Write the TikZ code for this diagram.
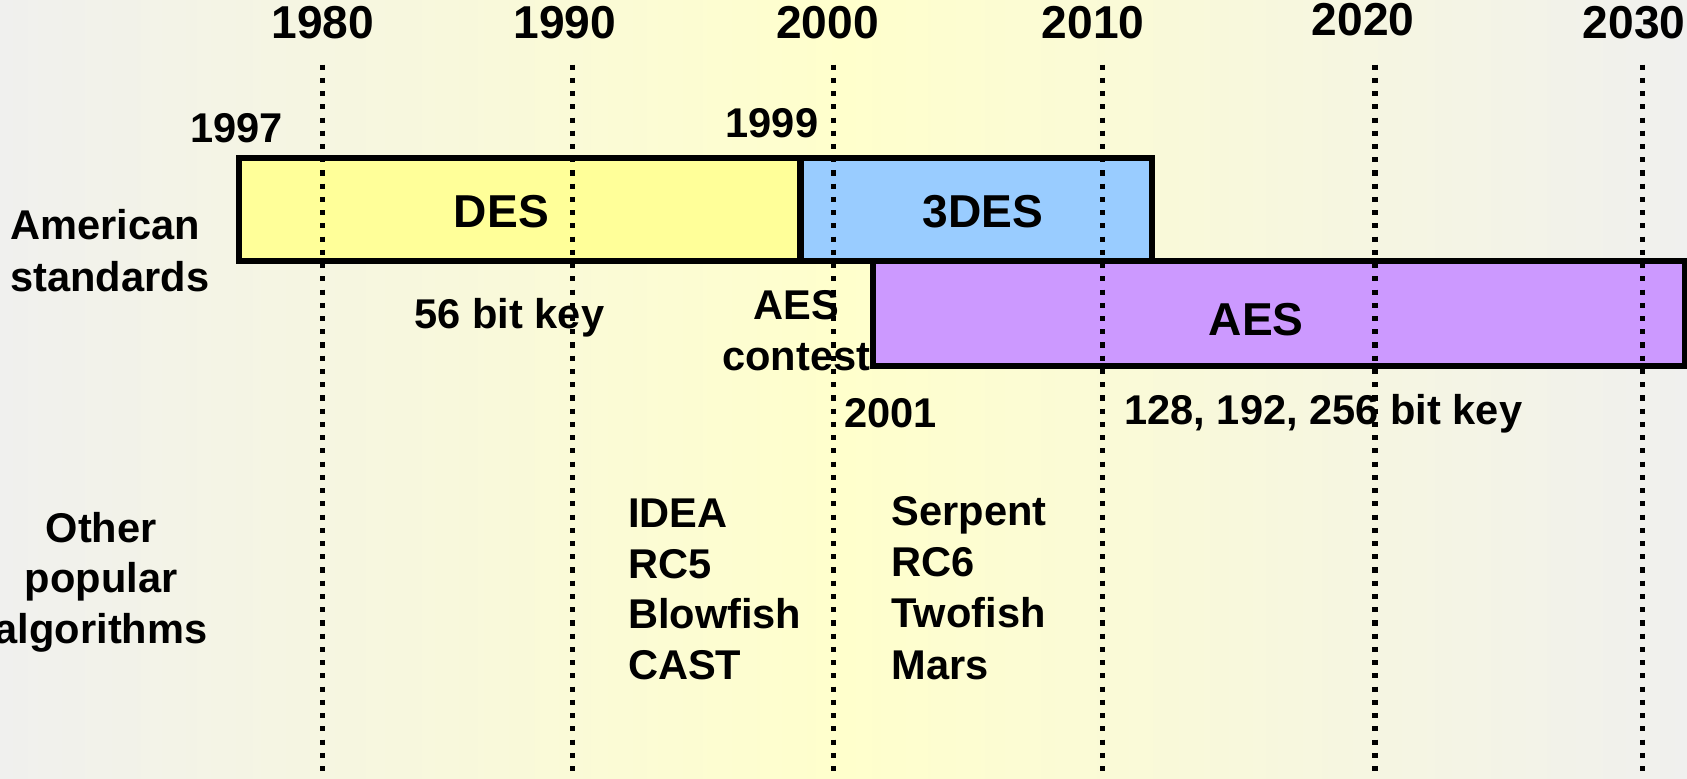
\documentclass[tikz,border=0pt]{standalone}
\usepackage{fontspec}
\setmainfont{Liberation Sans}
\definecolor{slidegray}{HTML}{F0F0EE}
\definecolor{slidecream}{HTML}{FFFFCC}
\definecolor{desfill}{HTML}{FFFF99}
\definecolor{tdesfill}{HTML}{99CCFF}
\definecolor{aesfill}{HTML}{CC99FF}
\newcommand{\yearline}[1]{\draw[dateline] (#1,-0.60) -- (#1,-7.24)}
\newcommand{\period}[5]{\draw[era,fill=#5] (#1,#2) rectangle (#3,#4)}
\tikzset{
  dateline/.style={line width=1.35pt, dash pattern=on 1.35pt off 2.15pt},
  era/.style={draw=black, line width=1.6pt},
  bigtext/.style={font=\fontsize{12.2}{14.6}\selectfont\bfseries, inner sep=0pt, anchor=base},
  note/.style={font=\fontsize{11}{13.4}\selectfont\bfseries, inner sep=0pt, anchor=base}
}

\begin{document}
\begin{tikzpicture}
	\useasboundingbox (0,0) rectangle (15.68,-7.24);
	\shade[left color=slidegray, right color=slidegray, middle color=slidecream]
		(0,0) rectangle (15.68,-7.24);
%
	\period{2.22}{-1.47}{7.44}{-2.43}{desfill};
	\period{7.44}{-1.47}{10.71}{-2.43}{tdesfill};
	\period{8.11}{-2.43}{15.66}{-3.40}{aesfill};
%
	\node[bigtext] (des) at (4.66,-2.11) {DES};
	\node[bigtext] (tdes) at (9.135,-2.11) {3DES};
	\node[bigtext] (aes) at (11.675,-3.12) {AES};
%
	\foreach \x/\y/\yr in {3.00/-0.359/1980, 5.25/-0.359/1990, 7.69/-0.359/2000,
		10.16/-0.359/2010, 12.67/-0.329/2020, 15.19/-0.359/2030}
		\node[bigtext] (y\yr) at (\x,\y) {\yr};
%
	\node[note, anchor=base west] (amer) at (0.09,-2.23) {American};
	\node[note, anchor=base west] (stand) at (0.09,-2.71) {standards};
	\foreach \w [count=\i from 0] in {Other,popular,algorithms}
		\node[note] (other\i) at (0.94,{-5.04-0.47*\i}) {\w};
%
	\node[note] (desstart) at (2.20,-1.32) {1997};
	\node[note] (tdesstart) at (7.175,-1.28) {1999};
	\node[note] (deskey) at (4.735,-3.05) {56 bit key};
	\node[note] (contest1) at (7.40,-2.97) {AES};
	\node[note] (contest2) at (7.40,-3.44) {contest};
	\node[note] (aesstart) at (8.275,-3.97) {2001};
	\node[note] (aeskey) at (12.30,-3.95) {128, 192, 256 bit key};
%
	\foreach \alg [count=\i from 0] in {IDEA,RC5,Blowfish,CAST}
		\node[note, anchor=base west] (old\i) at (5.83,{-4.90-0.473*\i}) {\alg};
	\foreach \alg [count=\i from 0] in {Serpent,RC6,Twofish,Mars}
		\node[note, anchor=base west] (final\i) at (8.28,{-4.88-0.478*\i}) {\alg};
%
	\foreach \x in {3.00,5.32,7.75,10.245,12.78,15.27}
		\yearline{\x};
%
\end{tikzpicture}
\end{document}
